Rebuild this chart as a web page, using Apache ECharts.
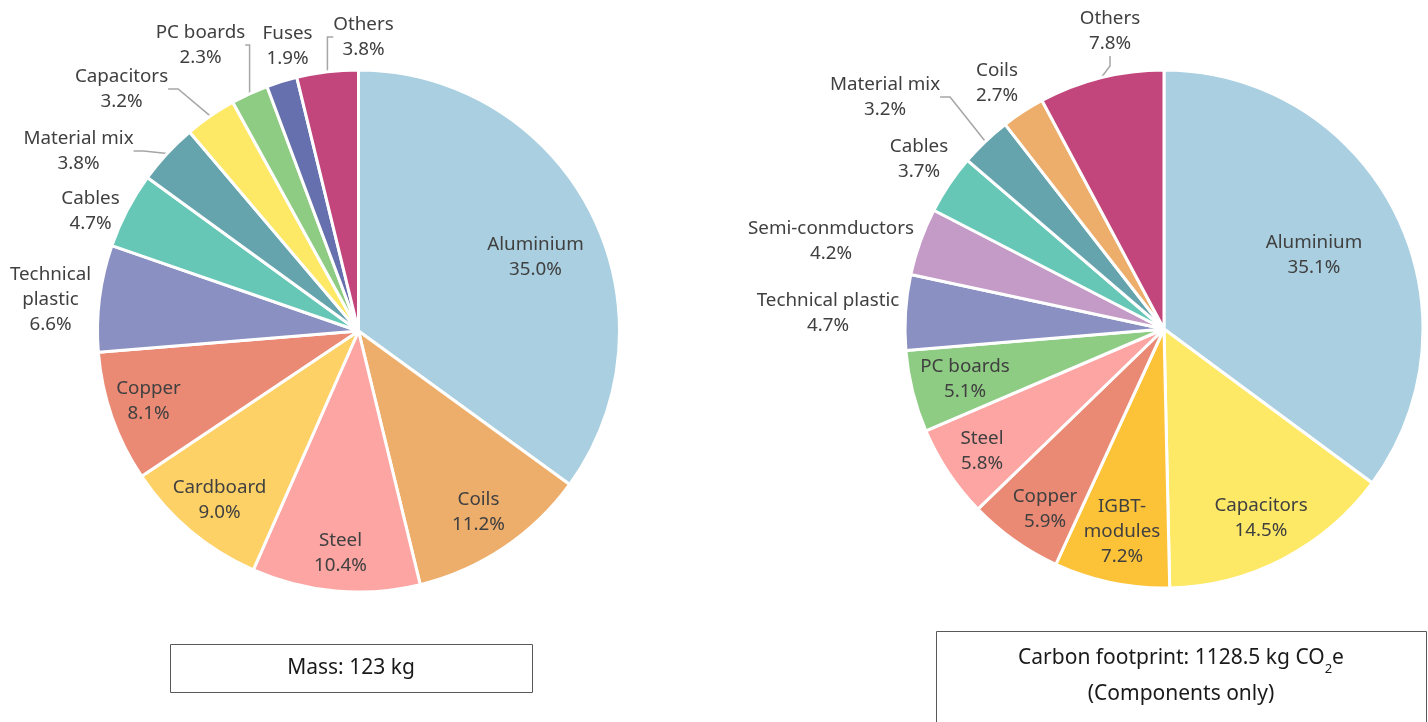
<!DOCTYPE html>
<html>
<head>
<meta charset="utf-8">
<script src="https://cdn.jsdelivr.net/npm/echarts@6/dist/echarts.min.js"></script>
<style>
html, body { margin: 0; background: #fff; }
#main { width: 1428px; height: 722px; }
</style>
</head>
<body>
<div id="main"></div>
<script>
// left pie: mass split
var massNames = ['Aluminium', 'Coils', 'Steel', 'Cardboard', 'Copper', 'Technical\nplastic', 'Cables', 'Material mix', 'Capacitors', 'PC boards', 'Fuses', 'Others'];
var massValues = [35.0, 11.2, 10.4, 9.0, 8.1, 6.6, 4.7, 3.8, 3.2, 2.3, 1.9, 3.8];

// right pie: carbon footprint split
var co2Names = ['Aluminium', 'Capacitors', 'IGBT-\nmodules', 'Copper', 'Steel', 'PC boards', 'Technical plastic', 'Semi-conmductors', 'Cables', 'Material mix', 'Coils', 'Others'];
var co2Values = [35.1, 14.5, 7.2, 5.9, 5.8, 5.1, 4.7, 4.2, 3.7, 3.2, 2.7, 7.8];

var colorOf = {
	'Aluminium': '#a9cfe0',
	'Coils': '#edae6b',
	'Steel': '#fca5a2',
	'Cardboard': '#fed166',
	'Copper': '#ea8a75',
	'Technical\nplastic': '#8a90c1',
	'Technical plastic': '#8a90c1',
	'Cables': '#66c7b7',
	'Material mix': '#66a4ad',
	'Capacitors': '#fee966',
	'PC boards': '#8ecc83',
	'Fuses': '#6670ae',
	'Others': '#c2467b',
	'IGBT-\nmodules': '#fdc338',
	'Semi-conmductors': '#c49ac6'
};

// label offsets from pie centre (placement only)
var massLabelPos = [[177,-74],[120,181],[-18,222],[-139,169],[-210,70],[-308,-31],[-268,-120],[-280,-180],[-237,-242],[-158,-286],[-71,-285],[5,-294]];
var co2LabelPos = [[150,-74],[97,189],[-42,203],[-119,180],[-182,122],[-199,50],[-336,-16],[-333,-88],[-245,-170],[-279,-232],[-167,-246],[-54,-298]];
var massLines = [0,0,0,0,0,0,0,1,1,1,0,1];
var co2Lines = [0,0,0,0,0,0,0,0,0,1,0,1];

var centers = [[358.5, 331], [1164, 329]];

function buildData(names, values, lines) {
	return names.map(function (n, i) {
		return {
			name: n,
			value: values[i],
			itemStyle: {color: colorOf[n]},
			labelLine: {show: !!lines[i]}
		};
	});
}

function pieSeries(idx, names, values, lines, posList, r) {
	return {
		type: 'pie',
		center: centers[idx],
		radius: [0, r],
		startAngle: 90,
		clockwise: true,
		avoidLabelOverlap: false,
		data: buildData(names, values, lines),
		itemStyle: {borderColor: '#fff', borderWidth: 3},
		label: {
			position: 'outside',
			fontFamily: 'Noto Sans',
			fontSize: 18.8,
			lineHeight: 25,
			color: '#404040',
			formatter: function (p) {
				return p.name + '\n' + p.value.toFixed(1) + '%';
			}
		},
		labelLine: {
			length: 10,
			length2: 10,
			lineStyle: {color: '#a6a6a6', width: 1.5}
		},
		labelLayout: function (p) {
			var off = posList[p.dataIndex];
			return {
				x: centers[idx][0] + off[0],
				y: centers[idx][1] + off[1],
				align: 'center',
				verticalAlign: 'middle'
			};
		},
		emphasis: {disabled: true}
	};
}

var myChart = echarts.init(document.getElementById('main'));
var option = {
	animation: false,
	backgroundColor: '#fff',
	series: [
		pieSeries(0, massNames, massValues, massLines, massLabelPos, 261),
		pieSeries(1, co2Names, co2Values, co2Lines, co2LabelPos, 259)
	],
	graphic: [
		{
			type: 'rect',
			shape: {x: 170.5, y: 644.5, width: 362, height: 48},
			style: {fill: '#fff', stroke: '#595959', lineWidth: 1}
		},
		{
			type: 'text',
			x: 351, y: 668,
			style: {
				text: 'Mass: 123 kg',
				fontFamily: 'Noto Sans',
				fontSize: 21,
				fill: '#1a1a1a',
				align: 'center',
				verticalAlign: 'middle'
			}
		},
		{
			type: 'rect',
			shape: {x: 936.5, y: 631.5, width: 490, height: 100},
			style: {fill: '#fff', stroke: '#595959', lineWidth: 1}
		},
		{
			type: 'text',
			x: 1181, y: 676,
			style: {
				text: 'Carbon footprint: 1128.5 kg CO{sub|2}e\n(Components only)',
				fontFamily: 'Noto Sans',
				fontSize: 21,
				lineHeight: 36,
				fill: '#1a1a1a',
				align: 'center',
				verticalAlign: 'middle',
				rich: {
					sub: {fontFamily: 'Noto Sans', fontSize: 13, lineHeight: 20, verticalAlign: 'bottom', fill: '#1a1a1a'}
				}
			}
		}
	]
};
myChart.setOption(option);
</script>
</body>
</html>
